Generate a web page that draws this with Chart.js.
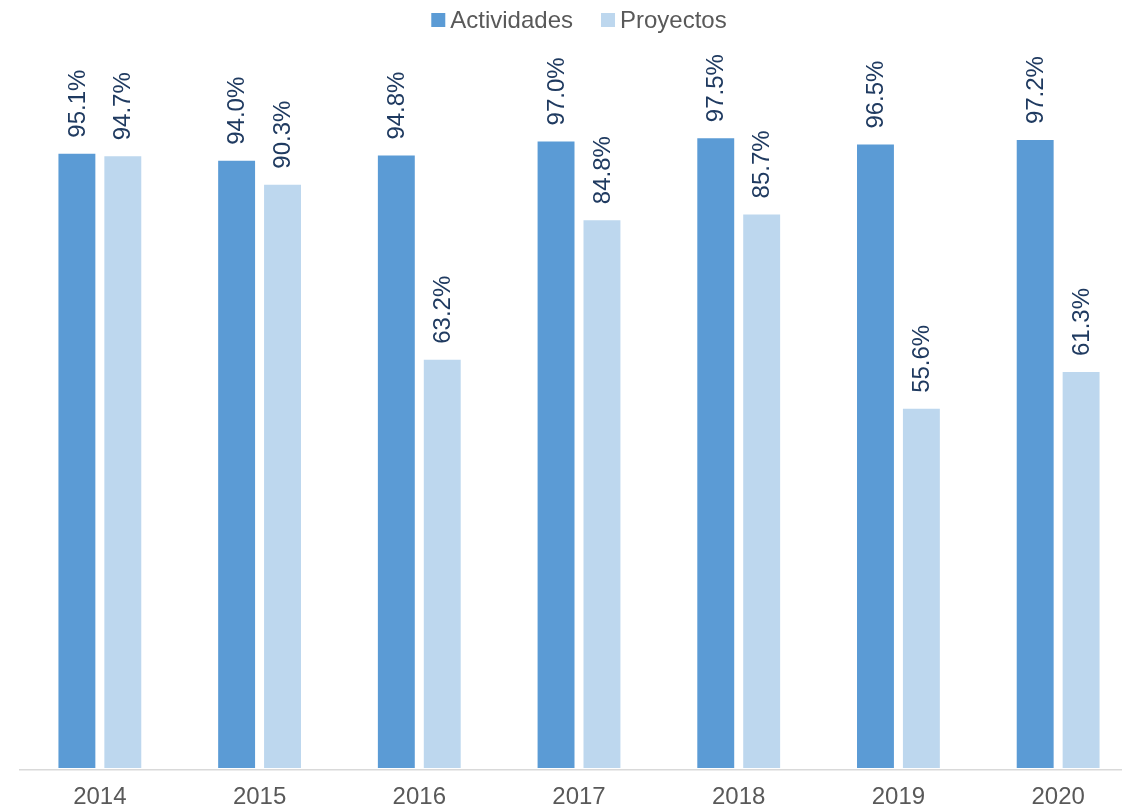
<!DOCTYPE html>
<html>
<head>
<meta charset="utf-8">
<script src="https://cdn.jsdelivr.net/npm/chart.js@4/dist/chart.umd.min.js"></script>
<style>
html,body{margin:0;padding:0;background:#fff;overflow:hidden;width:1122px;height:808px;}
#wrap{position:absolute;left:0;top:0;width:1160px;height:808px;}
</style>
</head>
<body>
<div id="wrap"><canvas id="c" width="1160" height="808"></canvas></div>
<script>
const categories = ['2014','2015','2016','2017','2018','2019','2020'];
const actividades = [95.1, 94.0, 94.8, 97.0, 97.5, 96.5, 97.2];
const proyectos = [94.7, 90.3, 63.2, 84.8, 85.7, 55.6, 61.3];
const seriesNames = ['Actividades','Proyectos'];
const seriesColors = ['#5B9BD5', '#BDD7EE'];

const FONT = "'Liberation Sans', Arial, sans-serif";

const labelPlugin = {
  id: 'rotLabels',
  afterDatasetsDraw(chart) {
    const ctx = chart.ctx;
    ctx.save();
    ctx.font = '24px ' + FONT;
    ctx.fillStyle = '#1F3A60';
    chart.data.datasets.forEach((ds, di) => {
      const meta = chart.getDatasetMeta(di);
      meta.data.forEach((bar, i) => {
        const v = ds.data[i];
        ctx.save();
        ctx.translate(bar.x + 1, bar.y - 16);
        ctx.rotate(-Math.PI / 2);
        ctx.textAlign = 'left';
        ctx.textBaseline = 'middle';
        ctx.fillText(v.toFixed(1) + '%', 0, 0);
        ctx.restore();
      });
    });
    ctx.restore();
  }
};

// custom legend (compact box-to-text gap like the reference)
const legendPlugin = {
  id: 'customLegend',
  afterDraw(chart) {
    const ctx = chart.ctx;
    ctx.save();
    ctx.font = '24px ' + FONT;
    const box = 14, gapBoxText = 5, gapItems = 28;
    const widths = chart.data.datasets.map(ds => box + gapBoxText + ctx.measureText(ds.label).width);
    const total = widths.reduce((a, b) => a + b, 0) + gapItems * (widths.length - 1);
    const center = (chart.chartArea.left + chart.chartArea.right) / 2;
    let x = center - total / 2;
    const yc = 20;
    chart.data.datasets.forEach((ds, i) => {
      ctx.fillStyle = ds.backgroundColor;
      ctx.fillRect(x, yc - box / 2, box, box);
      ctx.fillStyle = '#595959';
      ctx.textAlign = 'left';
      ctx.textBaseline = 'middle';
      ctx.fillText(ds.label, x + box + gapBoxText, yc + 1);
      x += widths[i] + gapItems;
    });
    ctx.restore();
  }
};

new Chart(document.getElementById('c'), {
  type: 'bar',
  data: {
    labels: categories,
    datasets: [
      { label: seriesNames[0], data: actividades, backgroundColor: seriesColors[0], categoryPercentage: 0.575, barPercentage: 0.804 },
      { label: seriesNames[1], data: proyectos, backgroundColor: seriesColors[1], categoryPercentage: 0.575, barPercentage: 0.804 }
    ]
  },
  options: {
    responsive: false,
    animation: false,
    devicePixelRatio: 1,
    layout: { padding: { left: 20, right: 22, top: 122, bottom: 2 } },
    plugins: {
      legend: { display: false },
      tooltip: { enabled: false }
    },
    scales: {
      x: {
        grid: { display: false, drawTicks: false },
        border: { display: true, color: '#D9D9D9', width: 1.5 },
        ticks: { color: '#595959', font: { family: FONT, size: 24, lineHeight: 1 }, padding: 15, maxRotation: 0 },
        afterFit(scale) { scale.height = 36; }
      },
      y: {
        display: false,
        min: -0.3, max: 100
      }
    }
  },
  plugins: [labelPlugin, legendPlugin]
});
</script>
</body>
</html>
